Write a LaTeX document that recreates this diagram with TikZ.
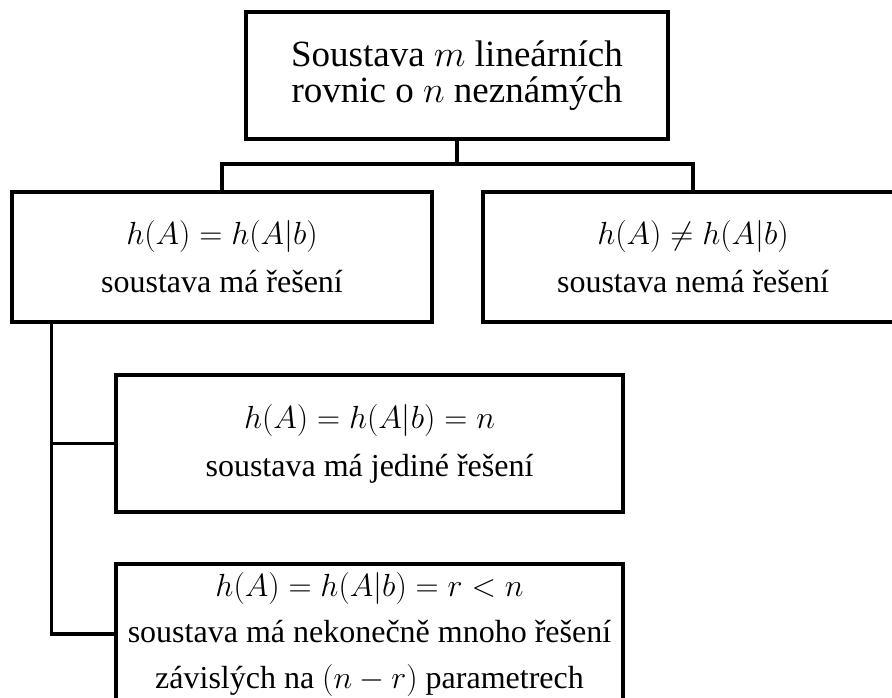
\RequirePackage{fix-cm}
\documentclass[tikz,border=0pt]{standalone}
\usepackage{fontspec}
\setmainfont{Liberation Serif}
\usepackage{amsmath}
\usetikzlibrary{calc}

\tikzset{
	box/.style={draw, line width=3.2pt, align=center, inner sep=0pt,
		font=\fontsize{32}{48}\selectfont},
	link/.style={line width=3.2pt}
}

\begin{document}
\begin{tikzpicture}[x=1pt, y=-1pt]
		\useasboundingbox (0,0) rectangle (892,697);
		
		% Top box
		\node[box, minimum width=422pt, minimum height=127pt, font=\fontsize{37}{36}\selectfont] (sys) at (457,75.5)
			{Soustava $m$ lineárních\\rovnic o $n$ neznámých};
		
		% First split
		\node[box, minimum width=420pt, minimum height=130pt] (has) at (222,257)
			{$h(A) = h(A|b)$\\soustava má řešení};
		\node[box, minimum width=420pt, minimum height=130pt] (none) at (693,257)
			{$h(A) \neq h(A|b)$\\soustava nemá řešení};
		
		% Solvable cases
		\node[box, minimum width=507pt, minimum height=137pt] (one) at (369.5,443.5)
			{$h(A) = h(A|b) = n$\\soustava má jediné řešení};
		\node[box, minimum width=507pt, minimum height=140pt, font=\fontsize{32}{46}\selectfont] (many) at (369.5,634)
			{$h(A) = h(A|b) = r < n$\\soustava má nekonečně mnoho řešení\\závislých na $(n - r)$ parametrech};
		
		% Connectors
		\coordinate (split) at (457,164);
		\coordinate (trunk) at ([xshift=41pt]has.south west);
		\draw[link] (sys.south) -- (split);
		\draw[link] (has.north) |- (split) -| (none.north);
		\draw[link] (trunk) |- (one.west);
		\draw[link] (trunk) |- (many.west);
	\end{tikzpicture}
\end{document}
